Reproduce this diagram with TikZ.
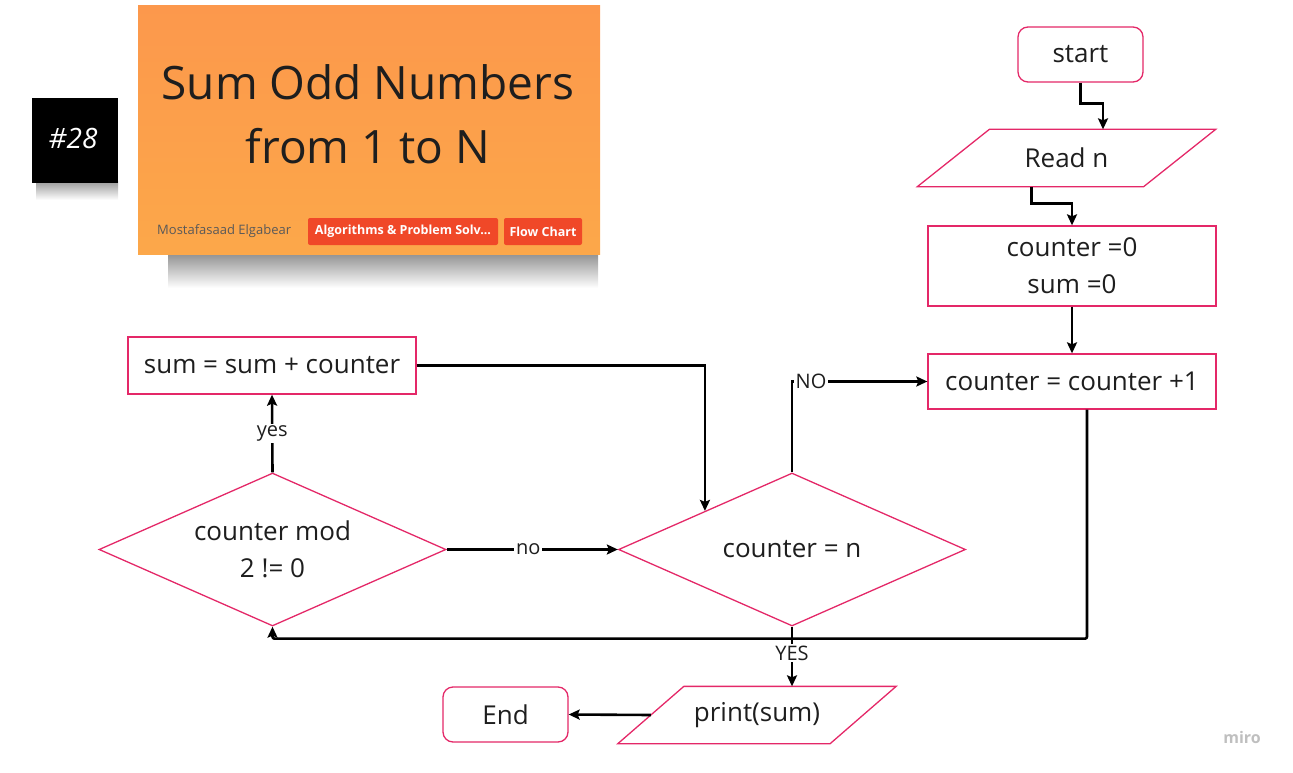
\documentclass[tikz,border=0pt]{standalone}
\usepackage{fontspec}
\setmainfont{Open Sans}
\usetikzlibrary{shapes.geometric,arrows.meta,calc,positioning}

\definecolor{flowpink}{RGB}{228,40,104}
\definecolor{cardorange}{RGB}{252,160,80}
\definecolor{tagred}{RGB}{240,72,40}
\definecolor{inkgray}{RGB}{30,30,30}

\tikzset{
  box/.style={draw=flowpink, line width=1.3pt, fill=white, minimum width=288pt, inner sep=2pt,
    text=inkgray, font=\fontsize{26}{37}\selectfont, align=center},
  term/.style={box, rounded corners=10pt, minimum width=125pt, minimum height=55pt},
  iotext/.style={box, draw=none, fill=none, minimum height=56pt},
  slanted/.style={draw=flowpink, line width=1.3pt, line join=miter},
  decide/.style={box, diamond, inner sep=0pt, aspect=2.27, minimum width=347pt, minimum height=153pt},
  arr/.style={line width=2.6pt, -{Stealth[length=11pt,width=10pt,inset=2pt]}},
  lbl/.style={fill=white, inner sep=2pt, text=inkgray, font=\fontsize{20}{24}\selectfont},
  tag/.style={fill=tagred, text=white, rounded corners=2pt, minimum height=27pt, inner sep=3pt,
    font=\fontsize{12.5}{14}\selectfont\bfseries}
}

\begin{document}
\begin{tikzpicture}[x=1pt,y=-1pt]
\useasboundingbox (0,0) rectangle (1293,773);

% badge and title card
\shade[top color=black!40, bottom color=white] (36,181) rectangle (118,200);
\fill[black] (32,98) rectangle (118,183);
\node[text=white, font=\fontsize{28}{30}\selectfont\itshape] (badge) at (73,138) {\#28};
\shade[top color=black!45, bottom color=white] (168,252) rectangle (598,288);
\shade[top color=cardorange!95!red, bottom color=cardorange!92!yellow] (138,6) rectangle (600,254);
\node[align=center, text=inkgray, font=\fontsize{46}{64}\selectfont] (title) at (368,114) {Sum Odd Numbers\\from 1 to N};
\node[anchor=west, inner sep=0pt, text=black!65, font=\fontsize{13}{15}\selectfont] (author) at (157,231) {Mostafasaad Elgabear};
\node[tag, minimum width=190pt] (tagalgo) at (403,231.5) {Algorithms \& Problem Solv...};
\node[tag, minimum width=78pt] (tagflow) at (543,231.5) {Flow Chart};

% flow chart
\node[term] (start) at (1080.5,54.5) {start};
\node[iotext, minimum width=225pt] (read) at (1066.5,158) {Read n};
\draw[slanted] ([xshift=36pt]read.north west) -- ([xshift=36pt]read.north east)
  -- ([xshift=-36pt]read.south east) -- ([xshift=-36pt]read.south west) -- cycle;
\node[box, minimum height=80pt] (init) at (1072,266) {counter =0\\sum =0};
\node[box, minimum height=55pt] (incr) at (1072,381.5) {counter = counter +1};
\node[decide] (check) at (792,549.5) {counter = n};
\node[decide] (odd) at (272.5,549.5) {counter mod\\2 != 0};
\node[box, minimum height=57pt] (add) at (272,365.5) {sum = sum + counter};
\node[iotext, minimum width=211pt] (print) at (757,715) {print(sum)};
\draw[slanted] ([xshift=33pt]print.north west) -- ([xshift=33pt]print.north east)
  -- ([xshift=-33pt]print.south east) -- ([xshift=-33pt]print.south west) -- cycle;
\node[term] (stop) at (505.5,714.5) {End};

\draw[arr] (start.south) -- ++(0,21) -| ([xshift=36.5pt]read.north);
\draw[arr] ([xshift=-35pt]read.south) -- ++(0,17) -| (init.north);
\draw[arr] (init) -- (incr);
\draw[arr, rounded corners=2pt] ([xshift=15pt]incr.south) |- ([yshift=-12pt]odd.south) -- (odd.south);
\draw[arr] (check.north) |- (incr.west) node[lbl, pos=0.5, xshift=19pt] {NO};
\draw[arr] (add.east) -| (check.north west);
\draw[arr] (odd.north) -- (add.south) node[lbl, midway] {yes};
\draw[arr] (odd.east) -- (check.west) node[lbl, midway, xshift=-4pt] {no};
\draw[arr] (check.south) -- (check.south |- print.north) node[lbl, pos=0.44] {YES};
\draw[arr] (print.west) -- (stop.east);

\node[text=black!25, font=\fontsize{16}{18}\selectfont\bfseries] (brand) at (1242,737) {miro};
\end{tikzpicture}
\end{document}
